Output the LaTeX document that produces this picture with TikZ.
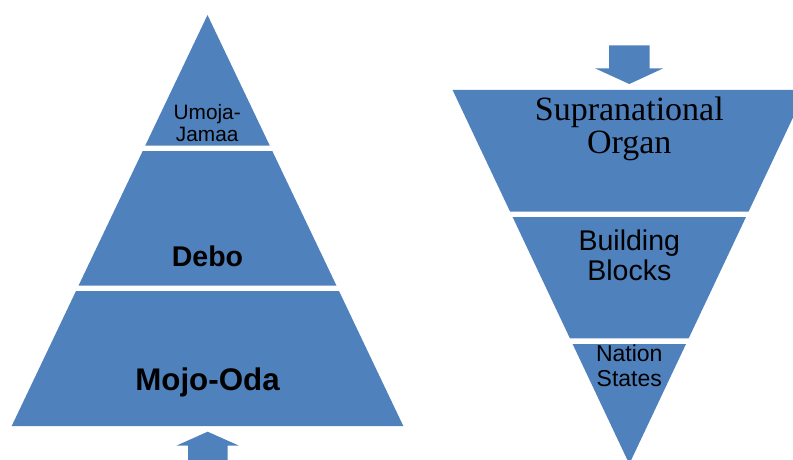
\documentclass[tikz,border=0pt]{standalone}
\usepackage{fontspec}
\setmainfont{Liberation Sans}
\newfontfamily\organfont{Liberation Serif}
\definecolor{tierblue}{HTML}{4F81BD}
\begin{document}
\begin{tikzpicture}[x=1pt,y=-1pt,
  tier/.style={fill=tierblue,draw=none},
  label/.style={anchor=base,inner sep=0pt,text=black}]
\useasboundingbox (0,0) rectangle (793,460);
\clip (0,0) rectangle (793,460);

% ---- pyramid (left) ----
\fill[tier] (207.5,15) -- (269.8,145.7) -- (145.2,145.7) -- cycle;
\fill[tier] (142.7,151) -- (272.3,151) -- (336.5,285.7) -- (78.5,285.7) -- cycle;
\fill[tier] (76.0,291) -- (339.0,291) -- (403.3,426) -- (11.7,426) -- cycle;

% upward arrow under the pyramid
\fill[tier] (207.7,431.7) -- (239,445.7) -- (227.5,445.7) -- (227.5,462)
  -- (188,462) -- (188,445.7) -- (176.3,445.7) -- cycle;

\node[label,font=\fontsize{20.8}{22}\selectfont] (umoja) at (207.2,120) {Umoja-};
\node[label,font=\fontsize{20.8}{22}\selectfont] (jamaa) at (207.2,141.7) {Jamaa};
\node[label,font=\fontsize{28.5}{30}\selectfont\bfseries] (debo) at (207.5,266.7) {Debo};
\node[label,font=\fontsize{31.3}{33}\selectfont\bfseries] (mojo) at (207.5,390.7) {Mojo-Oda};

% ---- inverted pyramid (right) ----
\fill[tier] (452.6,90) -- (806,90) -- (748.5,211.7) -- (510.1,211.7) -- cycle;
\fill[tier] (512.6,217) -- (746.0,217) -- (688.7,338.3) -- (569.9,338.3) -- cycle;
\fill[tier] (572.6,344) -- (686.0,344) -- (629.3,464) -- cycle;

% downward arrow above the inverted pyramid
\fill[tier] (609,45.3) -- (649.5,45.3) -- (649.5,68.3) -- (663.3,68.3)
  -- (629.3,84) -- (595,68.3) -- (609,68.3) -- cycle;

\node[label,font=\fontsize{34}{36}\selectfont\organfont] (supra) at (629.3,120.7) {Supranational};
\node[label,font=\fontsize{34}{36}\selectfont\organfont] (organ) at (629.3,153.3) {Organ};
\node[label,font=\fontsize{28.5}{30}\selectfont] (building) at (629.3,250.7) {Building};
\node[label,font=\fontsize{28.5}{30}\selectfont] (blocks) at (629.3,280.7) {Blocks};
\node[label,font=\fontsize{23}{24}\selectfont] (nation) at (629.3,361.7) {Nation};
\node[label,font=\fontsize{23}{24}\selectfont] (states) at (629.3,386) {States};
\end{tikzpicture}
\end{document}
